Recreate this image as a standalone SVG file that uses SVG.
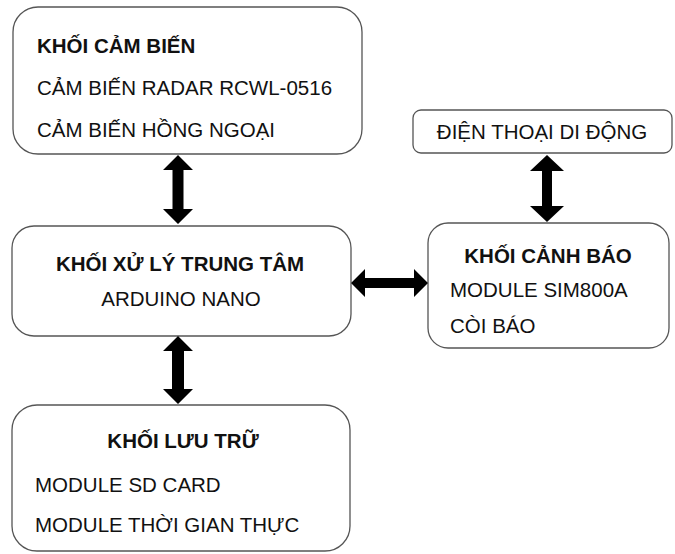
<svg xmlns="http://www.w3.org/2000/svg" width="675" height="554" viewBox="0 0 675 554">
<style>
.box{fill:#fff;stroke:#555;stroke-width:1.3}
text{font-family:"Liberation Sans",Arial,sans-serif;font-size:20.5px;fill:#111}
.b{font-weight:bold}
.c{text-anchor:middle}
.arr{fill:#000}
</style>
<rect width="675" height="554" fill="#fff"/>
<g id="sensor">
<rect class="box" x="13" y="7" width="349" height="147" rx="25"/>
<text class="b" x="37" y="53">KHỐI CẢM BIẾN</text>
<text x="37" y="95">CẢM BIẾN RADAR RCWL-0516</text>
<text x="37" y="137">CẢM BIẾN HỒNG NGOẠI</text>
</g>
<g id="phone">
<rect class="box" x="413" y="110" width="259" height="43" rx="8"/>
<text class="c" x="542" y="139">ĐIỆN THOẠI DI ĐỘNG</text>
</g>
<g id="cpu">
<rect class="box" x="12" y="226" width="339" height="110" rx="22"/>
<text class="b c" x="180" y="271">KHỐI XỬ LÝ TRUNG TÂM</text>
<text class="c" x="181" y="306">ARDUINO NANO</text>
</g>
<g id="alarm">
<rect class="box" x="428" y="223" width="241" height="125" rx="20"/>
<text class="b c" x="548" y="263">KHỐI CẢNH BÁO</text>
<text x="450" y="297">MODULE SIM800A</text>
<text x="450" y="333">CÒI BÁO</text>
</g>
<g id="storage">
<rect class="box" x="12" y="405" width="338" height="146" rx="25"/>
<text class="b c" x="183" y="448">KHỐI LƯU TRỮ</text>
<text x="35" y="492">MODULE SD CARD</text>
<text x="35" y="532">MODULE THỜI GIAN THỰC</text>
</g>
<g id="connectors">
<polygon class="arr" points="178,155 193,170 183.5,170 183.5,209 193,209 178,224 163,209 172.5,209 172.5,170 163,170"/>
<polygon class="arr" points="178,336 193,351 184,351 184,389 193,389 178,404 163,389 172,389 172,351 163,351"/>
<polygon class="arr" points="547,155 564,171 552,171 552,206 564,206 547,222 530,206 542,206 542,171 530,171"/>
<polygon class="arr" points="351,283 365,269 365,278 414,278 414,269 428,283 414,297 414,288 365,288 365,297"/>
</g>
</svg>
